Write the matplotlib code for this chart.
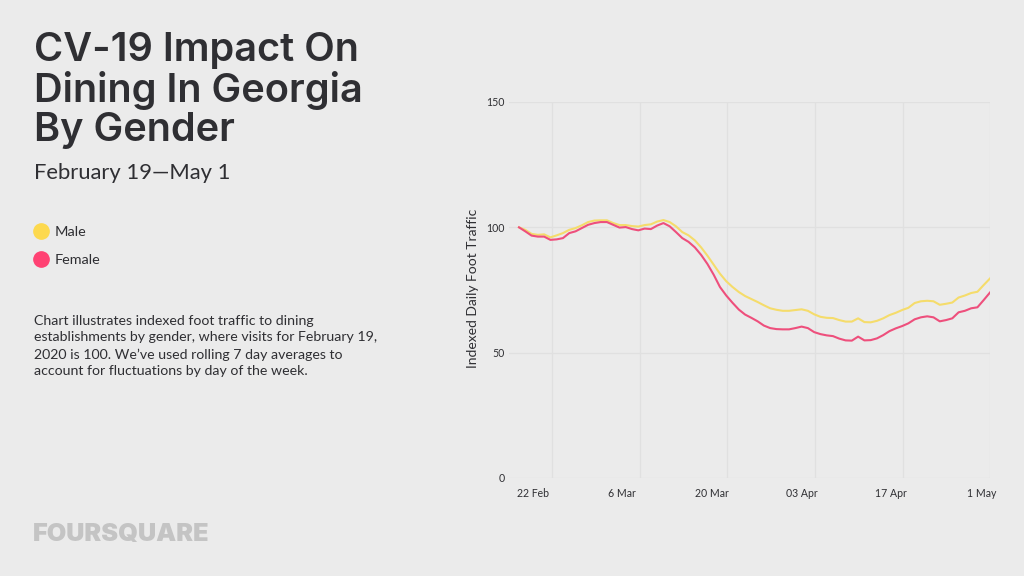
import matplotlib
matplotlib.use("Agg")
import matplotlib.pyplot as plt
from matplotlib.lines import Line2D

plt.rcParams['font.family'] = ['Lato', 'DejaVu Sans']

BG = '#ebebeb'
INK = '#2f2f33'
GRID = '#e0e0e0'

male = [100, 99, 97.4, 97, 97.2, 96, 96.8, 97.7, 99, 99.7, 100.8, 102.1, 102.7, 102.8, 102.8,
        101.7, 100.9, 100.9, 100.5, 100.3, 100.9, 101.2, 102.3, 102.9, 102.1, 100.4, 98.1, 96.8,
        94.8, 92, 88.7, 85.1, 81.5, 78.5, 76.2, 74.2, 72.6, 71.4, 70.2, 68.9, 67.7, 67.1, 66.7,
        66.7, 67, 67.3, 66.7, 65.3, 64.3, 63.9, 63.8, 63, 62.4, 62.4, 63.7, 62.2, 62.1, 62.7,
        63.7, 65, 65.9, 67, 67.9, 69.8, 70.5, 70.7, 70.5, 69.1, 69.5, 70, 72, 72.8, 73.8, 74.3,
        77, 79.6]
female = [100, 98.4, 96.7, 96.3, 96.3, 95, 95.2, 95.7, 97.7, 98.4, 99.7, 101, 101.7, 102.1, 102.1,
          101, 99.9, 100.1, 99.3, 98.8, 99.5, 99.3, 100.7, 101.7, 100.4, 98.1, 95.7, 94.2,
          92, 89, 85.4, 81.1, 76.2, 72.8, 69.9, 67.2, 65.2, 63.9, 62.5, 60.8, 59.8, 59.4, 59.3,
          59.3, 59.8, 60.4, 59.8, 58.2, 57.4, 56.9, 56.6, 55.6, 54.9, 54.8, 56.4, 54.9, 55, 55.7,
          57, 58.6, 59.7, 60.6, 61.7, 63.3, 64.1, 64.5, 64.1, 62.5, 63, 63.7, 66.1, 66.7, 67.7,
          68.1, 71, 74]
days = list(range(len(male)))

grid_days = [5.33, 19.27, 33.2, 47.2, 61.1, 75]
label_days = [2.15, 16.4, 30.7, 45, 59.3, 73.6]
date_labels = ['22 Feb', '6 Mar', '20 Mar', '03 Apr', '17 Apr', '1 May']
y_ticks = [0, 50, 100, 150]

W, H = 1024, 576
fig = plt.figure(figsize=(10.24, 5.76), dpi=100, facecolor=BG)
# axes box in pixels of the reference: x 509-990, y 102-478
ax = fig.add_axes([509 / W, 1 - 478 / H, (990 - 509) / W, (478 - 102) / H], facecolor=BG)

ax.plot(days, male, color='#f5dc6b', lw=1.5, label='Male', zorder=3)
ax.plot(days, female, color='#ee4f7c', lw=1.5, label='Female', zorder=4)

ax.set_xlim(-10 / 6.28, 75)
ax.set_ylim(0, 150)
ax.set_yticks(y_ticks)
ax.set_xticks(grid_days)
ax.set_xticklabels([])
ax.set_xticks(label_days, labels=date_labels, minor=True)
ax.grid(True, color=GRID, lw=0.9)
ax.set_axisbelow(True)
ax.tick_params(axis='both', which='both', length=0, colors=INK, labelsize=7.6)
ax.tick_params(axis='x', which='minor', pad=7)
ax.tick_params(axis='y', pad=3)
for s in ax.spines.values():
    s.set_visible(False)
ax.set_ylabel('Indexed Daily Foot Traffic', fontsize=10, color=INK)
ax.yaxis.set_label_coords((479 - 509) / (990 - 509), (478 - 288) / (478 - 102))

# left column
fig.text(34 / W, 1 - 32 / H, 'CV-19 Impact On\nDining In Georgia\nBy Gender', fontsize=28.6,
         family=['Inter', 'Lato'], fontweight='semibold', color=INK, va='top', ha='left',
         linespacing=1.07)
fig.text(34 / W, 1 - 173 / H, 'February 19\u2014May 1', fontsize=15.8, color=INK, va='center')

handles = [Line2D([], [], ls='none', marker='o', ms=11, color='#fdd94e', label='Male'),
           Line2D([], [], ls='none', marker='o', ms=11, color='#ff4273', label='Female')]
fig.legend(handles=handles, loc='upper left', bbox_to_anchor=(27 / W, 1 - 226 / H), frameon=False,
           fontsize=10.4, labelcolor=INK, labelspacing=1.1, handletextpad=-0.1, borderpad=0,
           borderaxespad=0, handlelength=2)

fig.text(34 / W, 1 - 346 / H,
         'Chart illustrates indexed foot traffic to dining\n'
         'establishments by gender, where visits for February 19,\n'
         '2020 is 100. We\u2019ve used rolling 7 day averages to\n'
         'account for fluctuations by day of the week.',
         fontsize=10.2, color=INK, va='center', linespacing=1.45)

fig.text(33 / W, 1 - 535 / H, 'FOURSQUARE', fontsize=18.2, family=['Inter', 'Lato'],
         fontweight='black', color='#c4c4c4', va='center')

fig.savefig('out.png', dpi=100, facecolor=BG)
